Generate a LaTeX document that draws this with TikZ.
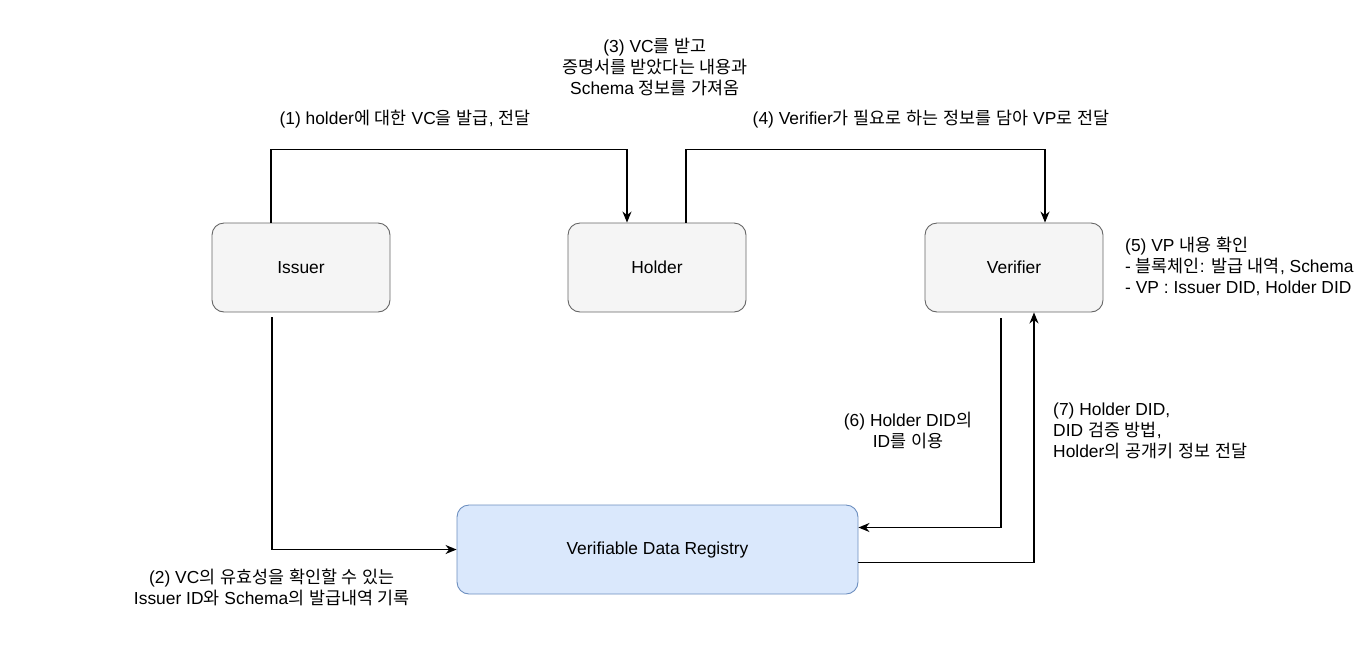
\documentclass[tikz,border=0pt]{standalone}
\usepackage{fontspec}
\setmainfont{Liberation Sans}
\newfontfamily\krfont{Noto Sans CJK KR}
\usetikzlibrary{arrows.meta}
% Hangul syllables switch to the Korean font by themselves
\XeTeXinterchartokenstate=1
\newXeTeXintercharclass\hangulclass
\newcount\hcode
\hcode="AC00
\loop \XeTeXcharclass\hcode=\hangulclass \advance\hcode by 1 \ifnum\hcode<"D7A4 \repeat
\XeTeXinterchartoks 0 \hangulclass = {\krfont}
\XeTeXinterchartoks 4095 \hangulclass = {\krfont}
\XeTeXinterchartoks \hangulclass 0 = {\rmfamily}
\XeTeXinterchartoks \hangulclass 4095 = {\rmfamily}
\definecolor{boxgray}{HTML}{F5F5F5}
\definecolor{linegray}{HTML}{666666}
\definecolor{boxblue}{HTML}{DAE8FC}
\definecolor{lineblue}{HTML}{6C8EBF}
\tikzset{
  party/.style={draw=linegray,fill=boxgray,rounded corners=12pt,line width=0.9pt,
    minimum width=178pt,minimum height=89pt},
  registry/.style={party,draw=lineblue,fill=boxblue,minimum width=401pt},
  note/.style={align=center,inner sep=0pt},
  flow/.style={line width=1.2pt,-{Stealth[length=11pt,width=9pt,inset=3.5pt]}}
}
\begin{document}
\begin{tikzpicture}[x=1pt,y=-1pt,font=\fontsize{17.4}{21}\selectfont]
  \useasboundingbox (0,0) rectangle (1366,649);
  \node[party] (issuer) at (301,267.5) {Issuer};
  \node[party] (holder) at (657,267.5) {Holder};
  \node[party] (verifier) at (1014,267.5) {Verifier};
  \node[registry] (vdr) at (657.5,549.5) {Verifiable Data Registry};

  \node[note] (lbl1) at (405,119) {(1) holder에 대한 VC을 발급, 전달};
  \node[note] (lbl3) at (655,67) {(3) VC를 받고\\증명서를 받았다는 내용과\\Schema 정보를 가져옴};
  \node[note] (lbl4) at (931,119) {(4) Verifier가 필요로 하는 정보를 담아 VP로 전달};
  \node[note,align=left,anchor=west] (lbl5) at (1125,266) {(5) VP 내용 확인\\- 블록체인: 발급 내역, Schema\\- VP : Issuer DID, Holder DID};
  \node[note] (lbl2) at (272,587) {(2) VC의 유효성을 확인할 수 있는\\Issuer ID와 Schema의 발급내역 기록};
  \node[note] (lbl6) at (908,430) {(6) Holder DID의\\ID를 이용};
  \node[note,align=left,anchor=west] (lbl7) at (1053,431) {(7) Holder DID,\\DID 검증 방법,\\Holder의 공개키 정보 전달};

  \draw[flow] ([xshift=-30pt]issuer.north) -- ++(0,-73) -| ([xshift=-30pt]holder.north);
  \draw[flow] ([xshift=29pt]holder.north) -- ++(0,-73) -| ([xshift=31pt]verifier.north);
  \draw[flow] ([xshift=-29pt,yshift=-5pt]issuer.south) |- (vdr.west);
  \draw[flow] ([xshift=-13pt,yshift=-6pt]verifier.south) |- ([yshift=22pt]vdr.east);
  \draw[flow] ([yshift=-13pt]vdr.east) -| ([xshift=20pt]verifier.south);
\end{tikzpicture}
\end{document}
